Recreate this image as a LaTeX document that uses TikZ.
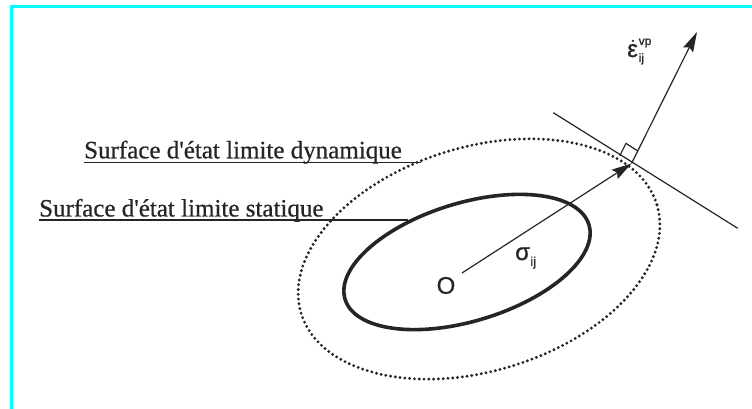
\documentclass[tikz,border=0pt]{standalone}
\usepackage{fontspec}
\setmainfont{Liberation Serif}
\newfontfamily\scanserif{Liberation Serif}[FakeBold=0.6]
\newfontfamily\lsans{Liberation Sans}[FakeBold=0.8]
\usetikzlibrary{arrows.meta,calc}
\definecolor{framecyan}{RGB}{0,255,255}
\definecolor{ink}{RGB}{40,35,40}
\begin{document}
\begin{tikzpicture}[x=1pt,y=1pt,
  frame/.style={draw=framecyan, line width=3pt},
  thin/.style={draw=ink, line width=1.2pt},
  solidell/.style={draw=ink, line width=3.6pt},
  dotell/.style={draw=ink, line width=3.2pt, line cap=round, dash pattern=on 0pt off 4.8pt},
  arr/.style={thin, -{Stealth[length=20pt,width=11pt,inset=3pt]}},
  lbl/.style={inner sep=0pt, font=\scanserif\fontsize{25}{25}\selectfont, text=ink},
  sym/.style={inner sep=0pt, font=\lsans\fontsize{24}{24}\selectfont, text=ink},
  idx/.style={inner sep=0pt, font=\lsans\fontsize{12}{12}\selectfont, text=ink}]
\useasboundingbox (0,0) rectangle (752,409);
\fill[white] (0,0) rectangle (752,409);
% frame (top and left)
\draw[frame] (752,402.5) -- (11.5,402.5) -- (11.5,0);

% ellipses
\draw[dotell, rotate around={17:(479,150)}] (479,150) ellipse [x radius=186, y radius=112];
\draw[solidell, rotate around={17:(467,147)}] (467,147) ellipse [x radius=127.5, y radius=59];

% key points
\coordinate (O0) at (462,136);
\coordinate (F) at (631.5,245.5);
\coordinate (Tl) at (553.3,296.3);
\coordinate (Tr) at (737.7,180.7);
\coordinate (E) at (697,377);
\coordinate (dynend) at (421,246.5);
\coordinate (statend) at (408,189);

% labels
\node[lbl, anchor=base west] (dyn) at (84,250.7) {Surface d\textquotesingle état limite dynamique};
\node[lbl, anchor=base west] (stat) at (39,192.5) {Surface d\textquotesingle état limite statique};
\draw[thin] ([yshift=-4.2pt]dyn.base west) -- (dynend);
\draw[thin] ([yshift=-3.5pt]stat.base west) -- (statend);

\node[sym] (O) at (446,123.5) {O};
\node[sym, anchor=base west] (sig) at (515,149) {σ};
\node[idx, anchor=base west, font=\lsans\fontsize{13}{13}\selectfont] (sigsub) at (sig.base east) [yshift=-6pt] {ij};
\node[sym, anchor=base west] (eps) at (627,352) {ε};
\fill[ink] ([xshift=6pt,yshift=3pt]eps.north west) circle (1.3pt);
\node[idx, anchor=base west] (epssup) at (638.5,364) {vp};
\node[idx, anchor=base west] (epssub) at (638.5,347) {ij};

% vectors and tangent
\draw[arr] (O0) -- (F);
\draw[thin] (Tl) -- (Tr);
\draw[arr] (F) -- (E);

% right angle mark
\coordinate (ra1) at ($(F)!14pt!(Tl)$);
\coordinate (ra3) at ($(F)!14pt!(E)$);
\coordinate (ra2) at ($(ra1)+(ra3)-(F)$);
\draw[thin] (ra1) -- (ra2) -- (ra3);
\end{tikzpicture}
\end{document}
